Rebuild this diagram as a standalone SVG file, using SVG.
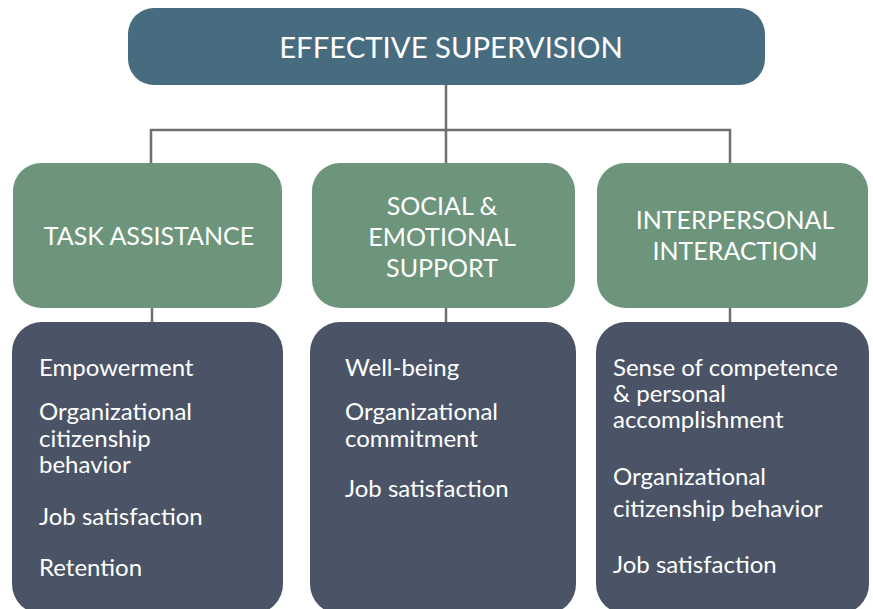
<svg xmlns="http://www.w3.org/2000/svg" width="873" height="609" viewBox="0 0 873 609">
<style>
.top{fill:#476c80}
.cat{fill:#6d957b}
.res{fill:#4a5466}
.conn{stroke:#6e6e73;stroke-width:2.5;fill:none}
text{font-family:Lato,"Noto Sans",sans-serif;fill:#ffffff}
.t1{font-size:29.3px}
.t2{font-size:25px}
.t3{font-size:24px}
</style>
<rect width="873" height="609" fill="#ffffff"/>
<g id="connectors">
<path class="conn" d="M446 85 V163"/>
<path class="conn" d="M151 163 V130 H730 V163"/>
<path class="conn" d="M152 308 V322"/>
<path class="conn" d="M446 308 V322"/>
<path class="conn" d="M730 308 V322"/>
</g>
<g id="effective-supervision">
<rect class="top" x="128" y="8" width="637" height="77" rx="26"/>
<text class="t1" x="451" y="58" text-anchor="middle">EFFECTIVE SUPERVISION</text>
</g>
<g id="task-assistance">
<rect class="cat" x="13" y="163" width="269" height="145" rx="28"/>
<text class="t2" x="149" y="245" text-anchor="middle">TASK ASSISTANCE</text>
</g>
<g id="social-emotional-support">
<rect class="cat" x="312" y="163" width="263" height="145" rx="28"/>
<text class="t2" x="442" y="215" text-anchor="middle">SOCIAL &amp;</text>
<text class="t2" x="442" y="246" text-anchor="middle">EMOTIONAL</text>
<text class="t2" x="442" y="277" text-anchor="middle">SUPPORT</text>
</g>
<g id="interpersonal-interaction">
<rect class="cat" x="597" y="163" width="271" height="145" rx="28"/>
<text class="t2" x="735" y="229" text-anchor="middle">INTERPERSONAL</text>
<text class="t2" x="735" y="260" text-anchor="middle">INTERACTION</text>
</g>
<g id="task-outcomes">
<rect class="res" x="12" y="322" width="271" height="292" rx="30"/>
<text class="t3" x="39" y="376">Empowerment</text>
<text class="t3" x="39" y="420">Organizational</text>
<text class="t3" x="39" y="447">citizenship</text>
<text class="t3" x="39" y="473">behavior</text>
<text class="t3" x="39" y="525">Job satisfaction</text>
<text class="t3" x="39" y="576">Retention</text>
</g>
<g id="social-outcomes">
<rect class="res" x="310" y="322" width="266" height="292" rx="30"/>
<text class="t3" x="345" y="376">Well-being</text>
<text class="t3" x="345" y="420">Organizational</text>
<text class="t3" x="345" y="447">commitment</text>
<text class="t3" x="345" y="497">Job satisfaction</text>
</g>
<g id="interpersonal-outcomes">
<rect class="res" x="596" y="322" width="273" height="292" rx="30"/>
<text class="t3" x="613" y="376">Sense of competence</text>
<text class="t3" x="613" y="402">&amp; personal</text>
<text class="t3" x="613" y="428">accomplishment</text>
<text class="t3" x="613" y="485">Organizational</text>
<text class="t3" x="613" y="517">citizenship behavior</text>
<text class="t3" x="613" y="573">Job satisfaction</text>
</g>
</svg>
